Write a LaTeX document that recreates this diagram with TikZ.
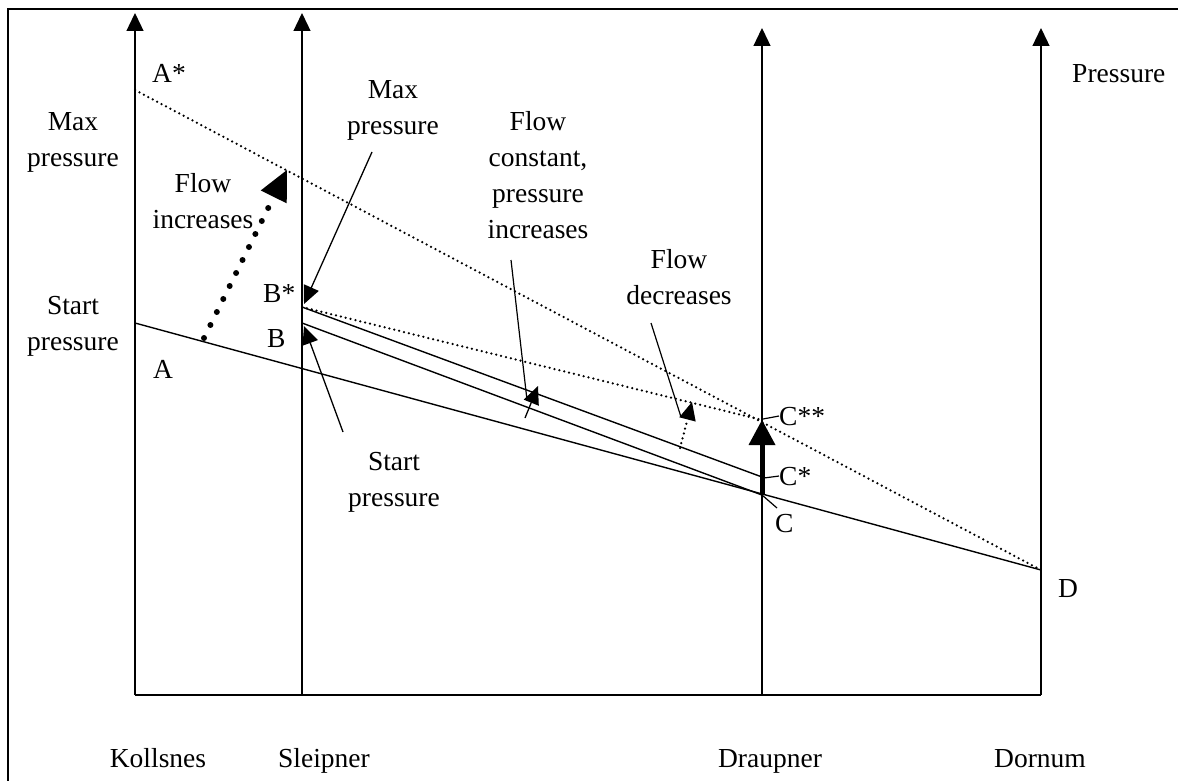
\documentclass[tikz,border=0pt]{standalone}
\usepackage{fontspec}
\setmainfont{Liberation Serif}
\usetikzlibrary{arrows.meta}
\tikzset{
  lbl/.style={inner sep=0pt, font=\fontsize{27.5}{36}\selectfont},
  mlbl/.style={lbl, align=center},
  axis/.style={line width=1.3pt, -{Triangle[length=18pt,width=17pt]}},
  solidln/.style={line width=1.4pt},
  dotln/.style={line width=2.5pt, line cap=round, dash pattern=on 0pt off 5pt},
  pointer/.style={line width=1.3pt, -{Triangle[length=18pt,width=16pt]}},
  bigarrow/.style={line width=5pt, -{Triangle[length=25pt,width=27pt,line width=0pt]}},
  dotarrow/.style={line width=6pt, line cap=round, dash pattern=on 0pt off 14.5pt, -{Triangle[length=30pt,width=29pt,line width=0pt]}},
  smalldotarrow/.style={line width=2.5pt, line cap=round, dash pattern=on 0pt off 5pt, -{Triangle[length=18pt,width=17pt,line width=0pt]}},
}
\begin{document}
\begin{tikzpicture}[x=1pt,y=-1pt]
\useasboundingbox (0,0) rectangle (1178,781);
% frame
\draw[line width=2.4pt] (8,800) -- (8,9) -- (1200,9);

% axes
\coordinate (kb) at (135,695);
\coordinate (kt) at (135,13);
\coordinate (sb) at (302,695);
\coordinate (st) at (302,13);
\coordinate (db) at (762,695);
\coordinate (dt) at (762,28);
\coordinate (mb) at (1041,695);
\coordinate (mt) at (1041,28);
\draw[axis] (kb) -- (kt);
\draw[axis] (sb) -- (st);
\draw[axis] (db) -- (dt);
\draw[axis] (mb) -- (mt);
\draw[solidln] (kb) -- (mb);

% key points
\coordinate (A) at (135,323);
\coordinate (Astar) at (135,90);
\coordinate (B) at (302,323);
\coordinate (Bstar) at (302,307);
\coordinate (C) at (762,495);
\coordinate (Cs) at (762,477);
\coordinate (Css) at (762,420);
\coordinate (D) at (1041,570);

% pressure profiles
\draw[solidln] (A) -- (D);
\draw[dotln] (Astar) -- (D);
\draw[solidln] (B) -- (C);
\draw[solidln] (Bstar) -- (Cs);
\draw[dotln] (Bstar) -- (Css);
\draw[bigarrow] (C) -- (Css);

% flow increases arrow
\coordinate (fiS) at (204,338);
\coordinate (fiE) at (287,170);
\draw[dotarrow] (fiS) -- (fiE);

% labels
\node[lbl, anchor=base west] (lAs) at (152,83) {A*};
\node[lbl, anchor=base west] (lA) at (153,378) {A};
\node[lbl, anchor=base west] (lBs) at (263,302) {B*};
\node[lbl, anchor=base west] (lB) at (267,347) {B};
\node[lbl, anchor=base west] (lCss) at (779,425) {C**};
\node[lbl, anchor=base west] (lCs) at (779,485) {C*};
\node[lbl, anchor=base west] (lC) at (775,532) {C};
\node[lbl, anchor=base west] (lD) at (1058,597) {D};
\node[lbl, anchor=base west] (lP) at (1072,83) {Pressure};

\node[mlbl] (lMaxL) at (73,142) {Max\\pressure};
\node[mlbl] (lStartL) at (73,326) {Start\\pressure};
\node[mlbl] (lFI) at (203,201) {Flow\\increases};
\node[mlbl] (lMaxT) at (393,110) {Max\\pressure};
\node[mlbl] (lFC) at (538,175) {Flow\\constant,\\pressure\\increases};
\node[mlbl] (lFD) at (679,277) {Flow\\decreases};
\node[mlbl] (lStartB) at (394,482) {Start\\pressure};

\node[lbl, anchor=base] (nK) at (158,767) {Kollsnes};
\node[lbl, anchor=base] (nS) at (324,767) {Sleipner};
\node[lbl, anchor=base] (nDr) at (770,767) {Draupner};
\node[lbl, anchor=base] (nDo) at (1040,767) {Dornum};

% ticks to C labels
\coordinate (tCss) at (763,419);
\coordinate (tCs) at (764,478);
\coordinate (tC) at (777,508);
\draw[line width=1.2pt] (tCss) -- (lCss.west);
\draw[line width=1.2pt] (tCs) -- (lCs.west);
\draw[line width=1.2pt] (C) -- (tC);

% pointers
\coordinate (pMaxS) at (372,152);
\coordinate (pMaxE) at (304,304);
\draw[pointer] (pMaxS) -- (pMaxE);
\coordinate (pStS) at (343,432);
\coordinate (pStE) at (304,326);
\draw[pointer] (pStS) -- (pStE);

% flow constant, pressure increases
\coordinate (fcS) at (511,260);
\coordinate (fcE) at (527,400);
\draw[line width=1.2pt] (fcS) -- (fcE);
\coordinate (saS) at (525,418);
\coordinate (saE) at (538,386);
\draw[pointer] (saS) -- (saE);

% flow decreases
\coordinate (fdS) at (651,323);
\coordinate (fdE) at (681,417);
\draw[line width=1.2pt] (fdS) -- (fdE);
\coordinate (sdS) at (680,448);
\coordinate (sdE) at (692,402);
\draw[smalldotarrow] (sdS) -- (sdE);
\end{tikzpicture}
\end{document}
